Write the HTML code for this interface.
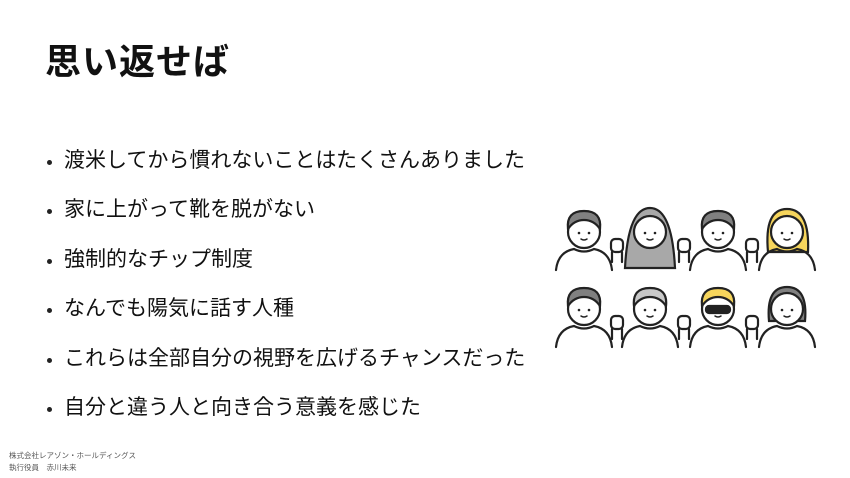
<!DOCTYPE html>
<html><head><meta charset="utf-8"><style>
body{margin:0;width:850px;height:478px;background:#fff;overflow:hidden;position:relative;font-family:"Liberation Sans","Noto Sans CJK JP",sans-serif;color:#111}
h1{position:absolute;left:45px;top:33px;margin:0;font-size:36px;font-weight:700;letter-spacing:1px}
ul{position:absolute;left:45px;top:147px;margin:0;padding:0;list-style:none}
li{font-size:21px;height:49.4px;line-height:28px;position:relative;padding-left:19px}
li:before{content:"";position:absolute;left:2px;top:13px;width:5px;height:5px;border-radius:50%;background:#222}
.f{position:absolute;left:9px;font-size:7.5px;color:#555}
</style></head><body>
<h1>思い返せば</h1>
<ul>
<li>渡米してから慣れないことはたくさんありました</li>
<li>家に上がって靴を脱がない</li>
<li>強制的なチップ制度</li>
<li>なんでも陽気に話す人種</li>
<li>これらは全部自分の視野を広げるチャンスだった</li>
<li>自分と違う人と向き合う意義を感じた</li>
</ul>
<div class="f" style="top:450px">株式会社レアゾン・ホールディングス</div>
<div class="f" style="top:462px">執行役員　赤川未来</div>
<svg style="position:absolute;left:0;top:0" width="850" height="478" fill="none" stroke="#222" stroke-width="2.2" stroke-linecap="round">
<defs>
<g id="body"><path d="M-28 38 Q-26 20 -10 17 Q0 22 10 17 Q26 20 28 38"/></g>
<g id="fist"><rect x="-6" y="-7" width="12" height="13" rx="4" fill="#fff"/><path d="M-5 6 L-5 16 M5 6 L5 16"/></g>
<g id="face"><circle r="16" fill="#fff"/><circle cx="-5" cy="1" r="1.3" fill="#222" stroke="none"/><circle cx="5" cy="1" r="1.3" fill="#222" stroke="none"/><path d="M-3 7 Q0 9 3 7" stroke-width="1.5"/></g>
</defs>
<g transform="translate(584,232)"><use href="#body"/><use href="#face"/><path d="M-16 -3 Q-18 -21 0 -21 Q18 -21 16 -3 Q10 -12 0 -12 Q-10 -12 -16 -3Z" fill="#808080"/></g>
<g transform="translate(650,232)"><path d="M-25 36 Q-22 -24 0 -24 Q22 -24 25 36Z" fill="#a8a8a8"/><use href="#face"/></g>
<g transform="translate(718,232)"><use href="#body"/><use href="#face"/><path d="M-16 -3 Q-18 -21 0 -21 Q18 -21 16 -3 Q10 -12 0 -12 Q-10 -12 -16 -3Z" fill="#808080"/></g>
<g transform="translate(787,232)"><path d="M-19 20 Q-23 -23 0 -23 Q23 -23 21 20Z" fill="#f6d55c"/><use href="#body"/><use href="#face"/></g>
<g transform="translate(617,246)"><use href="#fist"/></g>
<g transform="translate(684,246)"><use href="#fist"/></g>
<g transform="translate(752,246)"><use href="#fist"/></g>
<g transform="translate(584,309)"><use href="#body"/><use href="#face"/><path d="M-16 -3 Q-18 -21 0 -21 Q18 -21 16 -3 Q10 -12 0 -12 Q-10 -12 -16 -3Z" fill="#808080"/></g>
<g transform="translate(650,309)"><use href="#body"/><use href="#face"/><path d="M-16 -3 Q-18 -21 0 -21 Q18 -21 16 -3 Q10 -12 0 -12 Q-10 -12 -16 -3Z" fill="#c8c8c8"/></g>
<g transform="translate(718,309)"><use href="#body"/><use href="#face"/><path d="M-16 -3 Q-18 -21 0 -21 Q18 -21 16 -3 Q10 -12 0 -12 Q-10 -12 -16 -3Z" fill="#f6d55c"/><rect x="-12" y="-3" width="24" height="7" rx="3" fill="#222"/></g>
<g transform="translate(787,309)"><path d="M-18 12 Q-21 -22 0 -22 Q21 -22 18 12Z" fill="#808080"/><use href="#body"/><use href="#face"/></g>
<g transform="translate(617,323)"><use href="#fist"/></g>
<g transform="translate(684,323)"><use href="#fist"/></g>
<g transform="translate(752,323)"><use href="#fist"/></g>
</svg>
</body></html>
